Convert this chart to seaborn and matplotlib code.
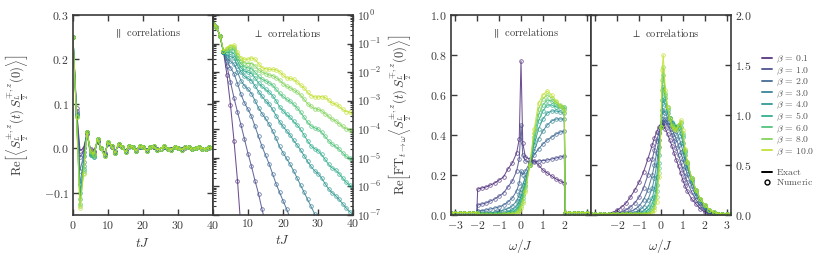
import numpy as np
import seaborn as sns
import matplotlib.pyplot as plt
from matplotlib.lines import Line2D
from matplotlib.ticker import LogLocator, NullFormatter

betas = [0.1, 1.0, 2.0, 3.0, 4.0, 5.0, 6.0, 8.0, 10.0]

# ---- panel 1: parallel correlations vs time ----
t_par = list(range(0, 41))
par_t_b01 = [0.25, 0.09, -0.005, 0.0, 0.033, -0.002, -0.005, 0.015, 0.0, -0.01, 0.01, 0.004, -0.007, 0.007, 0.003, -0.005, 0.004, 0.003, -0.004, 0.004, 0.003, -0.003, 0.002, 0.003, -0.002, -0.001, 0.003, -0.001, -0.002, 0.003, 0.001, -0.002, 0.001, 0.002, -0.001, 0.0, 0.002, -0.001, -0.001, 0.001, 0.001]
par_t_b1 = [0.25, 0.085, -0.02, -0.008, 0.035, -0.004, -0.008, 0.017, 0.0, -0.012, 0.011, 0.004, -0.008, 0.008, 0.003, -0.006, 0.005, 0.003, -0.005, 0.004, 0.003, -0.004, 0.002, 0.004, -0.002, -0.001, 0.004, -0.001, -0.002, 0.003, 0.001, -0.002, 0.002, 0.002, -0.001, 0.0, 0.002, -0.001, -0.001, 0.002, 0.001]
par_t_b2 = [0.25, 0.08, -0.05, -0.018, 0.036, -0.008, -0.012, 0.019, 0.0, -0.014, 0.012, 0.005, -0.009, 0.009, 0.003, -0.007, 0.005, 0.003, -0.005, 0.004, 0.003, -0.004, 0.002, 0.004, -0.003, -0.001, 0.004, -0.001, -0.002, 0.003, 0.001, -0.002, 0.002, 0.002, -0.002, 0.0, 0.002, -0.001, -0.001, 0.002, 0.001]
par_t_b3 = [0.25, 0.078, -0.08, -0.03, 0.037, -0.012, -0.016, 0.02, 0.0, -0.015, 0.013, 0.005, -0.01, 0.009, 0.004, -0.007, 0.005, 0.004, -0.006, 0.005, 0.004, -0.004, 0.002, 0.004, -0.003, -0.001, 0.004, -0.001, -0.003, 0.004, 0.001, -0.003, 0.002, 0.003, -0.002, 0.0, 0.003, -0.001, -0.002, 0.002, 0.001]
par_t_b4 = [0.25, 0.075, -0.10, -0.04, 0.037, -0.015, -0.02, 0.021, 0.0, -0.016, 0.013, 0.006, -0.01, 0.01, 0.004, -0.008, 0.006, 0.004, -0.006, 0.005, 0.004, -0.005, 0.002, 0.005, -0.003, -0.001, 0.005, -0.001, -0.003, 0.004, 0.001, -0.003, 0.002, 0.003, -0.002, 0.0, 0.003, -0.001, -0.002, 0.002, 0.001]
par_t_b5 = [0.25, 0.073, -0.115, -0.047, 0.037, -0.015, -0.02, 0.022, 0.0, -0.017, 0.014, 0.006, -0.011, 0.01, 0.004, -0.008, 0.006, 0.004, -0.006, 0.005, 0.004, -0.005, 0.002, 0.005, -0.003, -0.001, 0.005, -0.001, -0.003, 0.004, 0.001, -0.003, 0.002, 0.003, -0.002, 0.0, 0.003, -0.001, -0.002, 0.002, 0.001]
par_t_b6 = [0.25, 0.072, -0.125, -0.052, 0.037, -0.012, -0.018, 0.022, 0.0, -0.017, 0.014, 0.006, -0.011, 0.01, 0.004, -0.008, 0.006, 0.004, -0.006, 0.005, 0.004, -0.005, 0.002, 0.005, -0.003, -0.001, 0.005, -0.001, -0.003, 0.004, 0.001, -0.003, 0.002, 0.003, -0.002, 0.0, 0.003, -0.001, -0.002, 0.002, 0.001]
par_t_b8 = [0.25, 0.071, -0.13, -0.056, 0.037, -0.008, -0.015, 0.022, 0.0, -0.017, 0.014, 0.006, -0.011, 0.01, 0.004, -0.008, 0.006, 0.004, -0.006, 0.005, 0.004, -0.005, 0.002, 0.005, -0.003, -0.001, 0.005, -0.001, -0.003, 0.004, 0.001, -0.003, 0.002, 0.003, -0.002, 0.0, 0.003, -0.001, -0.002, 0.002, 0.001]
par_t_b10 = [0.25, 0.07, -0.135, -0.058, 0.037, -0.005, -0.012, 0.022, 0.0, -0.017, 0.014, 0.006, -0.011, 0.01, 0.004, -0.008, 0.006, 0.004, -0.006, 0.005, 0.004, -0.005, 0.002, 0.005, -0.003, -0.001, 0.005, -0.001, -0.003, 0.004, 0.001, -0.003, 0.002, 0.003, -0.002, 0.0, 0.003, -0.001, -0.002, 0.002, 0.001]

# ---- panel 2: perpendicular correlations vs time (log10 of value) ----
perp_t_log_b01 = [-0.3, -0.42, -0.75, -1.3, -2.1, -3.15, -4.4, -5.8, -7.5]
perp_t_log_b1 = [-0.3, -0.42, -0.72, -1.3, -1.8, -2.35, -2.9, -3.4, -3.85, -4.35, -4.85, -5.3, -5.8, -6.25, -6.8, -7.3]
perp_t_log_b2 = [-0.3, -0.42, -0.72, -1.3, -1.6, -1.85, -2.05, -2.4, -2.78, -3.08, -3.3, -3.55, -3.9, -4.25, -4.6, -4.9, -5.2, -5.55, -5.9, -6.2, -6.5, -6.78, -7.1]
perp_t_log_b3 = [-0.3, -0.42, -0.72, -1.3, -1.5, -1.62, -1.72, -2.0, -2.3, -2.48, -2.6, -2.75, -3.0, -3.25, -3.45, -3.62, -3.82, -4.05, -4.32, -4.6, -4.82, -5.02, -5.22, -5.45, -5.7, -5.95, -6.2, -6.45, -6.7, -6.95, -7.2]
perp_t_log_b4 = [-0.3, -0.42, -0.72, -1.29, -1.42, -1.45, -1.5, -1.78, -2.0, -2.15, -2.22, -2.3, -2.48, -2.68, -2.85, -3.0, -3.12, -3.3, -3.52, -3.73, -3.9, -4.05, -4.2, -4.38, -4.55, -4.72, -4.92, -5.12, -5.3, -5.45, -5.55, -5.7, -5.9, -6.08, -6.22, -6.32, -6.45, -6.6, -6.75, -6.88, -6.97]
perp_t_log_b5 = [-0.3, -0.42, -0.72, -1.28, -1.32, -1.3, -1.35, -1.62, -1.85, -1.97, -2.0, -2.05, -2.2, -2.38, -2.5, -2.6, -2.7, -2.82, -3.0, -3.21, -3.35, -3.48, -3.58, -3.72, -3.85, -4.0, -4.2, -4.4, -4.58, -4.68, -4.75, -4.88, -5.05, -5.22, -5.35, -5.42, -5.55, -5.7, -5.85, -5.95, -6.02]
perp_t_log_b6 = [-0.3, -0.42, -0.72, -1.27, -1.25, -1.2, -1.2, -1.5, -1.72, -1.82, -1.85, -1.88, -2.0, -2.15, -2.25, -2.3, -2.38, -2.45, -2.6, -2.74, -2.85, -2.95, -3.02, -3.12, -3.25, -3.4, -3.58, -3.75, -3.88, -3.95, -4.0, -4.1, -4.25, -4.4, -4.52, -4.6, -4.7, -4.82, -4.95, -5.02, -5.07]
perp_t_log_b8 = [-0.3, -0.42, -0.72, -1.26, -1.2, -1.12, -1.12, -1.4, -1.6, -1.68, -1.7, -1.7, -1.78, -1.92, -2.0, -2.05, -2.1, -2.12, -2.2, -2.28, -2.4, -2.5, -2.55, -2.62, -2.7, -2.8, -2.95, -3.1, -3.2, -3.28, -3.3, -3.35, -3.45, -3.55, -3.65, -3.7, -3.8, -3.9, -3.98, -4.02, -4.08]
perp_t_log_b10 = [-0.3, -0.42, -0.72, -1.25, -1.15, -1.07, -1.05, -1.3, -1.5, -1.55, -1.55, -1.5, -1.55, -1.7, -1.85, -1.88, -1.9, -1.9, -1.92, -1.98, -2.1, -2.2, -2.22, -2.25, -2.35, -2.45, -2.55, -2.7, -2.82, -2.87, -2.87, -2.86, -2.88, -2.98, -3.08, -3.12, -3.2, -3.3, -3.38, -3.4, -3.45]

# ---- panel 3: parallel spectral function ----
omega_par = [-3.2, -3.0, -2.8, -2.6, -2.4, -2.2, -2.02, -1.98, -1.8, -1.6, -1.4, -1.2, -1.0, -0.8, -0.6, -0.4, -0.2,
             -0.08, 0.0, 0.08, 0.2, 0.4, 0.6, 0.8, 1.0, 1.2, 1.4, 1.6, 1.8, 1.98, 2.02, 2.2, 2.4, 2.6, 2.8, 3.0, 3.2]
par_w_b01 = [0.012, 0.012, 0.012, 0.012, 0.012, 0.012, 0.012, 0.13, 0.135, 0.14, 0.15, 0.16, 0.175, 0.19, 0.23, 0.26, 0.31, 0.38, 0.77, 0.36, 0.29, 0.28, 0.27, 0.25, 0.225, 0.21, 0.195, 0.18, 0.17, 0.16, 0.012, 0.012, 0.012, 0.012, 0.012, 0.012, 0.012]
par_w_b1 = [0.012, 0.012, 0.012, 0.012, 0.012, 0.012, 0.012, 0.05, 0.055, 0.06, 0.07, 0.08, 0.095, 0.11, 0.14, 0.17, 0.22, 0.28, 0.45, 0.30, 0.27, 0.265, 0.265, 0.27, 0.272, 0.275, 0.28, 0.285, 0.29, 0.295, 0.012, 0.012, 0.012, 0.012, 0.012, 0.012, 0.012]
par_w_b2 = [0.012, 0.012, 0.012, 0.012, 0.012, 0.012, 0.012, 0.02, 0.022, 0.025, 0.03, 0.035, 0.04, 0.05, 0.065, 0.085, 0.12, 0.16, 0.22, 0.20, 0.22, 0.26, 0.30, 0.33, 0.355, 0.375, 0.39, 0.405, 0.415, 0.42, 0.012, 0.012, 0.012, 0.012, 0.012, 0.012, 0.012]
par_w_b3 = [0.012, 0.012, 0.012, 0.012, 0.012, 0.012, 0.012, 0.01, 0.01, 0.011, 0.012, 0.014, 0.018, 0.024, 0.032, 0.045, 0.07, 0.10, 0.13, 0.15, 0.19, 0.25, 0.32, 0.38, 0.42, 0.45, 0.47, 0.48, 0.48, 0.48, 0.012, 0.012, 0.012, 0.012, 0.012, 0.012, 0.012]
par_w_b4 = [0.012, 0.012, 0.012, 0.012, 0.012, 0.012, 0.012, 0.006, 0.006, 0.006, 0.007, 0.008, 0.009, 0.011, 0.015, 0.025, 0.045, 0.07, 0.095, 0.12, 0.165, 0.25, 0.35, 0.43, 0.48, 0.51, 0.52, 0.52, 0.515, 0.51, 0.012, 0.012, 0.012, 0.012, 0.012, 0.012, 0.012]
par_w_b5 = [0.012, 0.012, 0.012, 0.012, 0.012, 0.012, 0.012, 0.005, 0.005, 0.005, 0.005, 0.005, 0.006, 0.007, 0.009, 0.015, 0.03, 0.05, 0.075, 0.10, 0.15, 0.25, 0.37, 0.47, 0.52, 0.55, 0.55, 0.54, 0.535, 0.53, 0.012, 0.012, 0.012, 0.012, 0.012, 0.012, 0.012]
par_w_b6 = [0.012, 0.012, 0.012, 0.012, 0.012, 0.012, 0.012, 0.004, 0.004, 0.004, 0.004, 0.004, 0.004, 0.005, 0.006, 0.01, 0.02, 0.035, 0.06, 0.085, 0.14, 0.25, 0.39, 0.50, 0.55, 0.575, 0.57, 0.555, 0.545, 0.54, 0.012, 0.012, 0.012, 0.012, 0.012, 0.012, 0.012]
par_w_b8 = [0.012, 0.012, 0.012, 0.012, 0.012, 0.012, 0.012, 0.003, 0.003, 0.003, 0.003, 0.003, 0.003, 0.004, 0.005, 0.007, 0.01, 0.025, 0.045, 0.07, 0.125, 0.25, 0.41, 0.53, 0.58, 0.60, 0.585, 0.565, 0.55, 0.54, 0.012, 0.012, 0.012, 0.012, 0.012, 0.012, 0.012]
par_w_b10 = [0.012, 0.012, 0.012, 0.012, 0.012, 0.012, 0.012, 0.002, 0.002, 0.002, 0.002, 0.002, 0.002, 0.003, 0.004, 0.005, 0.008, 0.018, 0.035, 0.06, 0.115, 0.25, 0.43, 0.56, 0.60, 0.62, 0.60, 0.57, 0.545, 0.52, 0.012, 0.012, 0.012, 0.012, 0.012, 0.012, 0.012]

# ---- panel 4: perpendicular spectral function ----
omega_perp = [-3.2, -3.0, -2.8, -2.6, -2.4, -2.2, -2.0, -1.8, -1.6, -1.4, -1.2, -1.0, -0.8, -0.6, -0.4, -0.3, -0.2, -0.1,
              0.0, 0.05, 0.1, 0.2, 0.3, 0.4, 0.5, 0.6, 0.7, 0.8, 0.9, 1.0, 1.1, 1.2, 1.4, 1.6, 1.8, 2.0, 2.2, 2.4, 2.6, 2.8, 3.0, 3.2]
perp_w_b01 = [0.01, 0.01, 0.01, 0.01, 0.015, 0.025, 0.05, 0.08, 0.12, 0.18, 0.25, 0.33, 0.43, 0.56, 0.70, 0.77, 0.83, 0.88, 0.90, 0.90, 0.89, 0.86, 0.81, 0.75, 0.69, 0.62, 0.55, 0.49, 0.42, 0.35, 0.29, 0.24, 0.16, 0.11, 0.06, 0.03, 0.015, 0.01, 0.01, 0.01, 0.01, 0.01]
perp_w_b1 = [0.01, 0.01, 0.01, 0.01, 0.01, 0.012, 0.02, 0.03, 0.05, 0.08, 0.12, 0.18, 0.27, 0.40, 0.56, 0.65, 0.74, 0.82, 0.89, 0.91, 0.93, 0.93, 0.90, 0.86, 0.80, 0.74, 0.67, 0.60, 0.53, 0.46, 0.39, 0.33, 0.23, 0.15, 0.09, 0.05, 0.025, 0.015, 0.01, 0.01, 0.01, 0.01]
perp_w_b2 = [0.01, 0.01, 0.01, 0.01, 0.01, 0.01, 0.01, 0.015, 0.02, 0.035, 0.055, 0.09, 0.15, 0.25, 0.40, 0.50, 0.62, 0.75, 0.88, 0.93, 0.96, 0.96, 0.93, 0.90, 0.86, 0.81, 0.76, 0.70, 0.63, 0.56, 0.48, 0.41, 0.29, 0.19, 0.12, 0.07, 0.035, 0.02, 0.01, 0.01, 0.01, 0.01]
perp_w_b3 = [0.01, 0.01, 0.01, 0.01, 0.01, 0.01, 0.01, 0.01, 0.012, 0.015, 0.025, 0.045, 0.08, 0.15, 0.27, 0.37, 0.50, 0.68, 0.88, 1.00, 1.05, 1.02, 0.97, 0.94, 0.92, 0.88, 0.84, 0.79, 0.72, 0.64, 0.55, 0.47, 0.33, 0.22, 0.14, 0.08, 0.04, 0.02, 0.01, 0.01, 0.01, 0.01]
perp_w_b4 = [0.01, 0.01, 0.01, 0.01, 0.01, 0.01, 0.01, 0.01, 0.01, 0.01, 0.012, 0.02, 0.04, 0.08, 0.17, 0.26, 0.38, 0.60, 0.88, 1.05, 1.15, 1.10, 1.02, 0.97, 0.93, 0.90, 0.88, 0.87, 0.82, 0.72, 0.60, 0.50, 0.35, 0.24, 0.15, 0.09, 0.05, 0.025, 0.015, 0.01, 0.01, 0.01]
perp_w_b5 = [0.01, 0.01, 0.01, 0.01, 0.01, 0.01, 0.01, 0.01, 0.01, 0.01, 0.01, 0.012, 0.02, 0.045, 0.11, 0.18, 0.30, 0.52, 0.88, 1.15, 1.28, 1.17, 1.05, 0.97, 0.92, 0.89, 0.88, 0.90, 0.88, 0.78, 0.63, 0.52, 0.36, 0.25, 0.16, 0.10, 0.055, 0.03, 0.015, 0.01, 0.01, 0.01]
perp_w_b6 = [0.01, 0.01, 0.01, 0.01, 0.01, 0.01, 0.01, 0.01, 0.01, 0.01, 0.01, 0.01, 0.012, 0.025, 0.07, 0.13, 0.24, 0.47, 0.88, 1.25, 1.40, 1.20, 1.07, 0.97, 0.91, 0.88, 0.87, 0.90, 0.92, 0.80, 0.64, 0.53, 0.37, 0.25, 0.16, 0.10, 0.055, 0.03, 0.015, 0.01, 0.01, 0.01]
perp_w_b8 = [0.01, 0.01, 0.01, 0.01, 0.01, 0.01, 0.01, 0.01, 0.01, 0.01, 0.01, 0.01, 0.01, 0.015, 0.04, 0.08, 0.18, 0.42, 0.88, 1.35, 1.48, 1.22, 1.08, 0.97, 0.90, 0.87, 0.86, 0.90, 0.93, 0.82, 0.65, 0.53, 0.37, 0.25, 0.16, 0.10, 0.055, 0.03, 0.015, 0.01, 0.01, 0.01]
perp_w_b10 = [0.01, 0.01, 0.01, 0.01, 0.01, 0.01, 0.01, 0.01, 0.01, 0.01, 0.01, 0.01, 0.01, 0.01, 0.02, 0.05, 0.13, 0.38, 0.88, 1.45, 1.60, 1.25, 1.08, 0.96, 0.89, 0.86, 0.85, 0.90, 0.95, 0.85, 0.66, 0.53, 0.37, 0.25, 0.16, 0.10, 0.055, 0.03, 0.015, 0.01, 0.01, 0.01]

par_t = [par_t_b01, par_t_b1, par_t_b2, par_t_b3, par_t_b4, par_t_b5, par_t_b6, par_t_b8, par_t_b10]
perp_t_log = [perp_t_log_b01, perp_t_log_b1, perp_t_log_b2, perp_t_log_b3, perp_t_log_b4,
              perp_t_log_b5, perp_t_log_b6, perp_t_log_b8, perp_t_log_b10]
par_w = [par_w_b01, par_w_b1, par_w_b2, par_w_b3, par_w_b4, par_w_b5, par_w_b6, par_w_b8, par_w_b10]
perp_w = [perp_w_b01, perp_w_b1, perp_w_b2, perp_w_b3, perp_w_b4, perp_w_b5, perp_w_b6, perp_w_b8, perp_w_b10]

# ---- style ----
sns.set_theme(style="ticks")
ink = "#3a3a3a"
plt.rcParams.update({
    "font.family": "serif",
    "font.serif": ["cmr10"],
    "mathtext.fontset": "cm",
    "axes.formatter.use_mathtext": True,
    "axes.linewidth": 1.2,
    "axes.edgecolor": ink,
    "axes.labelcolor": ink,
    "text.color": ink,
    "xtick.color": ink,
    "ytick.color": ink,
    "font.size": 8,
})
colors = sns.color_palette("viridis", len(betas))

fig = plt.figure(figsize=(8.31, 2.6), dpi=100)
W, H = 831, 260
def panel(x0):
    return fig.add_axes([x0 / W, 45 / H, 140 / W, 200 / H])

ax1, ax2, ax3, ax4 = panel(73), panel(213), panel(451), panel(591)

def draw(ax, x, ys):
    for y, c in zip(ys, colors):
        n = len(y)
        sns.lineplot(x=x[:n], y=y, ax=ax, color=c, lw=0.75, alpha=0.8, marker="o", markersize=2.6,
                     markerfacecolor="none", markeredgecolor=c, markeredgewidth=0.55,
                     estimator=None, sort=False, legend=False)

draw(ax1, t_par, par_t)
draw(ax2, t_par, [list(np.power(10.0, v)) for v in perp_t_log])
draw(ax3, omega_par, par_w)
draw(ax4, omega_perp, perp_w)

for ax in (ax1, ax2, ax3, ax4):
    ax.tick_params(direction="in", which="both", top=True, right=True, labelsize=8.5,
                   length=4, width=1.0, pad=3)
    ax.tick_params(which="minor", length=2, width=0.8)
    ax.set_xlabel("")
    ax.set_ylabel("")

ylab_t = r"$\mathrm{Re}\left[\left\langle S^{\pm,z}_{\frac{L}{2}}(t)\,S^{\mp,z}_{\frac{L}{2}}(0)\right\rangle\right]$"
ylab_w = r"$\mathrm{Re}\left[\mathrm{FT}_{t\to\omega}\left\langle S^{\pm,z}_{\frac{L}{2}}(t)\,S^{\mp,z}_{\frac{L}{2}}(0)\right\rangle\right]$"

# panel 1
ax1.set_xlim(0, 40)
ax1.set_ylim(-0.15, 0.3)
ax1.set_xticks([0, 10, 20, 30, 40])
ax1.set_yticks([-0.1, 0.0, 0.1, 0.2, 0.3])
ax1.set_xlabel(r"$tJ$", fontsize=9.5)
ax1.set_ylabel(ylab_t, fontsize=9)
ax1.yaxis.set_label_coords(-0.31, 0.5)
ax1.text(0.53, 0.91, r"$\parallel$ correlations", transform=ax1.transAxes, ha="center", va="center", fontsize=7.5)

# panel 2
ax2.set_yscale("log")
ax2.set_xlim(0, 40)
ax2.set_ylim(1e-7, 1)
ax2.set_xticks([0, 10, 20, 30, 40], labels=["", "10", "20", "30", "40"])
ax2.yaxis.set_major_locator(LogLocator(base=10, numticks=10))
ax2.yaxis.set_minor_locator(LogLocator(base=10, subs=np.arange(2, 10), numticks=10))
ax2.yaxis.set_minor_formatter(NullFormatter())
ax2.tick_params(labelleft=False, labelright=True)
ax2.set_xlabel(r"$tJ$", fontsize=9.5)
ax2.text(0.53, 0.91, r"$\perp$ correlations", transform=ax2.transAxes, ha="center", va="center", fontsize=7.5)

# panel 3
ax3.set_xlim(-3.2, 3.2)
ax3.set_ylim(0, 1.0)
ax3.set_xticks([-3, -2, -1, 0, 1, 2, 3], labels=[r"$-3$", r"$-2$", r"$-1$", r"$0$", r"$1$", r"$2$", ""])
ax3.set_yticks([0.0, 0.2, 0.4, 0.6, 0.8, 1.0])
ax3.set_xlabel(r"$\omega/J$", fontsize=9.5)
ax3.set_ylabel(ylab_w, fontsize=9)
ax3.yaxis.set_label_coords(-0.27, 0.5)
ax3.text(0.53, 0.91, r"$\parallel$ correlations", transform=ax3.transAxes, ha="center", va="center", fontsize=7.5)

# panel 4
ax4.set_xlim(-3.2, 3.2)
ax4.set_ylim(0, 2.0)
ax4.set_xticks([-3, -2, -1, 0, 1, 2, 3], labels=["", r"$-2$", r"$-1$", r"$0$", r"$1$", r"$2$", r"$3$"])
ax4.set_yticks([0.0, 0.5, 1.0, 1.5, 2.0])
ax4.tick_params(labelleft=False, labelright=True)
ax4.set_xlabel(r"$\omega/J$", fontsize=9.5)
ax4.text(0.53, 0.91, r"$\perp$ correlations", transform=ax4.transAxes, ha="center", va="center", fontsize=7.5)

# legend
handles = [Line2D([], [], color=c, lw=1.4, alpha=0.85) for c in colors]
labels = [r"$\beta\,=\,%.1f$" % b for b in betas]
handles += [Line2D([], [], color="none"), Line2D([], [], color="black", lw=1.4),
            Line2D([], [], color="black", marker="o", ls="none", mfc="none", ms=3.5, mew=1.0)]
labels += [r"$\,$", r"$\mathrm{Exact}$", r"$\mathrm{Numeric}$"]
leg = fig.legend(handles, labels, loc="upper left", bbox_to_anchor=(762 / W, 1 - 54 / H), frameon=False,
                 fontsize=7, handlelength=1.0, handletextpad=0.4, labelspacing=0.02, borderaxespad=0,
                 borderpad=0)
for txt in leg.get_texts():
    txt.set_color("#555555")

fig.savefig("out.png", dpi=100)
